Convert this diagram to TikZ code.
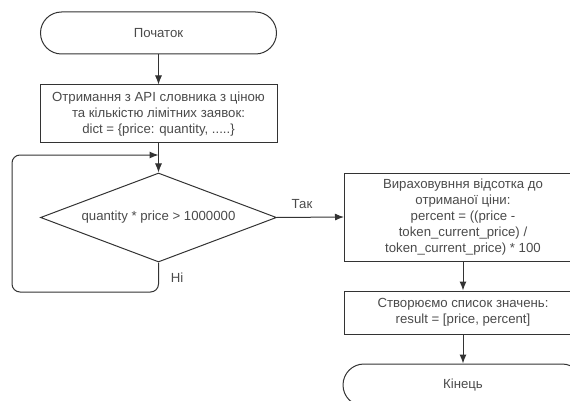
\documentclass[tikz,border=0pt]{standalone}
\usepackage{fontspec}
\setmainfont{Liberation Sans}
\usetikzlibrary{shapes.geometric,arrows.meta}
\definecolor{ink}{HTML}{333333}
\definecolor{txt}{HTML}{4a4a4a}
\begin{document}
\begin{tikzpicture}[x=1pt,y=-1pt,line width=1pt,draw=ink,
  >={Latex[length=9pt,width=7pt]},
  every node/.style={text=txt,font=\fontsize{13.2}{16}\selectfont},
  term/.style={draw=ink,rectangle,rounded corners=21pt,minimum width=236pt,minimum height=42pt,inner sep=0pt},
  proc/.style={draw=ink,rectangle,align=center,minimum width=237pt,inner sep=0pt},
  cond/.style={draw=ink,diamond,aspect=2.64,minimum width=236pt,minimum height=89pt,inner sep=0pt}]
\useasboundingbox (0,0) rectangle (570,401);
\clip (0,0) rectangle (570,401);
\node[term](start) at (158.5,33){Початок};
\node[proc,minimum height=58pt](dict) at (158.5,114){Отримання з API словника з ціною\\та кількістю лімітних заявок:\\dict = \{price: quantity, .....\}};
\node[cond](check) at (158.5,217.5){quantity * price > 1000000};
\node[proc,minimum height=88pt](calc) at (463,217){Вираховувння відсотка до\\отриманої ціни:\\percent = ((price -\\token\_current\_price) /\\token\_current\_price) * 100};
\node[proc,minimum height=43pt](res) at (463,312.5){Створюємо список значень:\\result = [price, percent]};
\node[term,minimum width=240pt](finish) at (463,385){Кінець};
\coordinate(merge) at (158.5,155);
\coordinate(loopbl) at (12,292);
\draw[->](start)--(dict);
\draw[->](dict)--(check);
\draw[->,rounded corners=8pt](check.south)|-(loopbl)|-(merge);
\draw[->](check.east)--(calc.west);
\draw[->](calc)--(res);
\draw[->](res)--(finish);
\node(yes) at (302,204){Так};
\node(no) at (177,278){Ні};
\end{tikzpicture}
\end{document}
